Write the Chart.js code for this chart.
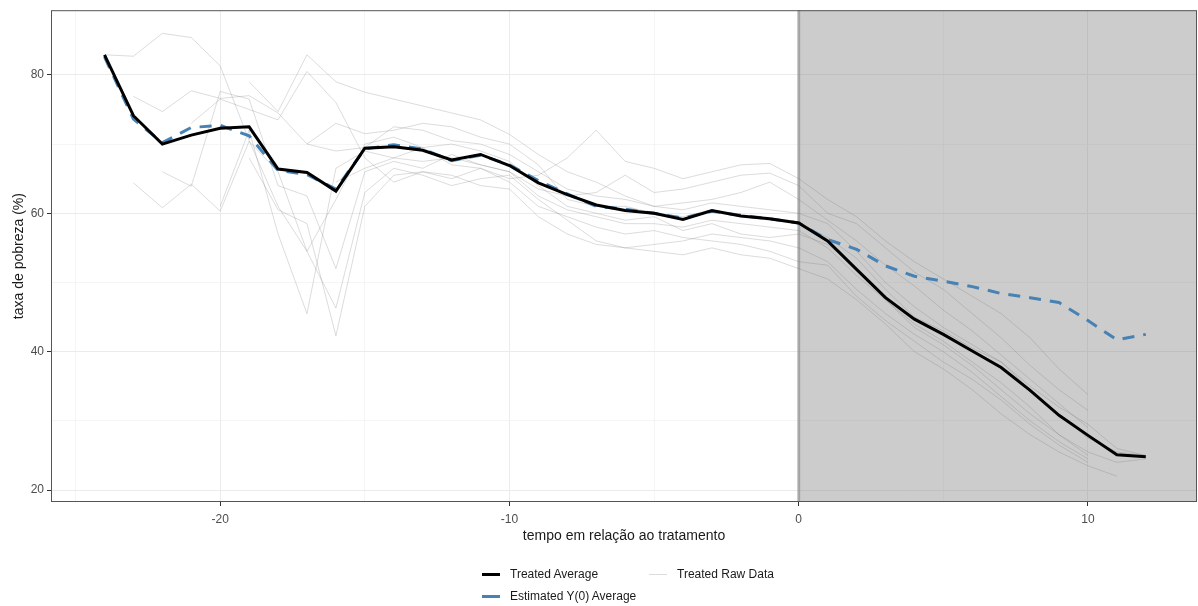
<!DOCTYPE html>
<html>
<head>
<meta charset="utf-8">
<script src="https://cdn.jsdelivr.net/npm/chart.js@4.4.0/dist/chart.umd.min.js"></script>
<style>
  html, body { margin: 0; padding: 0; background: #fff; }
  #wrap { position: relative; width: 1198px; height: 606px; }
  #legend { position: absolute; left: 0; top: 0; width: 1198px; height: 606px; pointer-events: none;
            font-family: 'Liberation Sans', Arial, sans-serif; font-size: 12px; color: #1a1a1a; }
  .item { position: absolute; display: flex; align-items: center; white-space: nowrap; }
  .key { width: 18px; height: 3px; margin-right: 10px; }
</style>
</head>
<body>
<div id="wrap">
  <canvas id="lineCanvas" width="1198" height="606"></canvas>
  <div id="legend">
    <div class="item" style="left:482px; top:567px;"><span class="key" style="background:#000;"></span>Treated Average</div>
    <div class="item" style="left:649px; top:567px;"><span class="key" style="background:#dcdcdc; height:1px;"></span>Treated Raw Data</div>
    <div class="item" style="left:482px; top:589px;"><span class="key" style="background:#4682b4;"></span>Estimated Y(0) Average</div>
  </div>
</div>
<script>
const tempo = [-24, -23, -22, -21, -20, -19, -18, -17, -16, -15, -14, -13, -12, -11, -10, -9, -8, -7, -6, -5,
               -4, -3, -2, -1, 0, 1, 2, 3, 4, 5, 6, 7, 8, 9, 10, 11, 12];

const treatedAvg = [82.9, 74.1, 70.0, 71.3, 72.3, 72.5, 66.4, 65.9, 63.2, 69.4,
                    69.6, 69.1, 67.7, 68.5, 66.9, 64.4, 62.7, 61.2, 60.4, 60.0,
                    59.1, 60.4, 59.6, 59.2, 58.6, 56.0, 51.9, 47.8, 44.7, 42.5,
                    40.1, 37.7, 34.4, 30.8, 27.9, 25.1, 24.8];

const estimatedY0 = [82.6, 73.6, 70.2, 72.4, 72.7, 71.2, 66.2, 65.6, 63.5, 69.3,
                     69.9, 69.3, 67.6, 68.4, 67.0, 64.7, 62.8, 61.0, 60.6, 60.0,
                     59.3, 60.3, 59.7, 59.2, 58.6, 56.2, 54.8, 52.4, 50.9, 50.2,
                     49.4, 48.4, 47.8, 47.1, 44.5, 41.7, 42.5];

// dados brutos das unidades tratadas
const rawA = [82.9, 82.7, 86.0, 85.4, 81.3, 70.5, 61.0, 54.5, 62.0, 70.0,
              71.0, 69.5, 67.0, 66.5, 64.5, 61.0, 59.5, 58.0, 57.0, 57.5,
              56.5, 56.0, 55.5, 54.5, 53.0, 52.5, 48.0, 44.5, 41.5, 38.5,
              36.0, 33.0, 29.5, 26.5, 24.0, null, null];
const rawB = [null, 76.9, 74.7, 77.7, 76.6, 77.0, 74.5, 70.0, 69.0, 69.5,
              72.5, 72.0, 70.5, 70.0, 68.5, 66.0, 63.5, 62.5, 62.0, 61.0,
              60.5, 61.5, 61.0, 60.5, 60.0, 58.5, 54.5, 50.0, 46.5, 43.5,
              41.0, 38.5, 34.5, 31.0, 27.5, 25.5, 25.0];
const rawC = [null, 64.4, 60.8, 64.2, 60.3, 70.4, 66.0, 54.5, 46.3, 63.0,
              66.5, 65.5, 64.0, 65.0, 65.5, 62.0, 59.0, 56.0, 55.0, 54.5,
              54.0, 55.0, 54.0, 53.5, 52.0, 50.5, 47.5, 44.0, 40.0, 37.5,
              34.5, 31.0, 28.0, 25.5, 23.5, 22.0, null];
const rawD = [null, null, 66.0, 63.9, 77.6, 76.5, 64.0, 62.5, 52.0, 66.0,
              67.5, 66.5, 68.5, 67.0, 66.0, 63.5, 62.5, 63.0, 65.5, 63.0,
              63.5, 64.5, 65.5, 65.8, 64.0, 60.0, 58.5, 55.0, 51.5, 49.0,
              45.5, 42.0, 38.0, 34.5, 31.5, null, null];
const rawE = [null, null, null, 73.0, 76.5, 75.0, 73.5, 80.5, 76.0, 68.0,
              64.5, 66.0, 65.0, 66.5, 65.0, 65.5, 68.0, 72.0, 67.5, 66.5,
              65.0, 66.0, 67.0, 67.2, 65.0, 62.0, 59.5, 56.0, 53.0, 50.5,
              48.0, 45.5, 42.0, 37.5, 33.8, null, null];
const rawF = [null, null, null, null, 61.0, 72.0, 57.0, 45.5, 66.5, 69.0,
              68.0, 67.5, 68.0, 67.0, 66.0, 62.5, 60.5, 59.5, 58.5, 58.5,
              58.0, 59.0, 58.5, 58.0, 57.5, 55.0, 51.0, 47.5, 43.5, 41.0,
              38.0, 34.5, 31.0, 28.0, 25.5, 24.0, 24.5];
const rawG = [null, null, null, null, null, 79.0, 74.7, 82.9, 79.0, 77.5,
              76.5, 75.5, 74.5, 73.5, 71.4, 68.5, 66.0, 64.5, 62.5, 61.0,
              61.5, 62.0, 63.0, 64.5, 62.0, 59.0, 56.0, 52.5, 49.5, 46.0,
              43.0, 39.5, 36.0, 32.5, 29.0, null, null];
const rawH = [null, null, null, null, null, 68.0, 60.5, 58.5, 42.3, 61.0,
              65.5, 66.0, 65.5, 64.0, 63.5, 59.5, 57.0, 55.5, 55.0, 55.5,
              56.0, 57.0, 56.5, 56.0, 55.0, 53.0, 49.0, 45.5, 42.5, 40.0,
              37.0, 33.5, 30.0, 27.0, 24.5, null, null];
const rawI = [null, null, null, null, null, null, null, 70.0, 73.0, 71.5,
              72.0, 73.0, 72.5, 71.0, 70.0, 67.0, 62.0, 61.0, 61.0, 60.0,
              59.5, 60.5, 59.5, 59.0, 58.5, 56.5, 53.5, 49.0, 45.0, 43.0,
              40.5, 38.5, 35.0, 32.0, 29.5, 26.0, 25.0];
const rawJ = [null, null, null, null, null, null, null, null, 64.5, 66.5,
              68.0, 69.5, 70.0, 69.0, 67.5, 64.0, 61.0, 60.0, 59.0, 59.5,
              57.5, 58.5, 57.0, 56.5, 57.0, 55.5, 52.0, 47.5, 44.0, 41.5,
              38.5, 35.5, 32.0, 28.0, 25.0, null, null];

const rawSeries = [rawA, rawB, rawC, rawD, rawE, rawF, rawG, rawH, rawI, rawJ];

const yTicks = [20, 40, 60, 80];
const xTicks = [-20, -10, 0, 10];
const treatStart = 0;

const toPoints = arr => tempo.map((t, i) => ({ x: t, y: arr[i] }));

const rawSets = rawSeries.map((s, i) => ({
  label: 'Treated Raw Data ' + (i + 1),
  data: toPoints(s),
  borderColor: 'rgba(110,110,110,0.24)',
  borderWidth: 1,
  pointRadius: 0,
  spanGaps: false,
  order: 2
}));

// fundo cinza do periodo de tratamento + borda do painel
const panelPlugin = {
  id: 'panel',
  beforeDatasetsDraw(chart) {
    const { ctx, chartArea, scales } = chart;
    const x0 = scales.x.getPixelForValue(treatStart);
    ctx.save();
    ctx.fillStyle = 'rgba(127,127,127,0.4)';
    ctx.fillRect(x0, chartArea.top, chartArea.right - x0, chartArea.bottom - chartArea.top);
    ctx.strokeStyle = 'rgba(110,110,110,0.45)';
    ctx.lineWidth = 3;
    ctx.beginPath();
    ctx.moveTo(x0, chartArea.top);
    ctx.lineTo(x0, chartArea.bottom);
    ctx.stroke();
    ctx.restore();
  },
  afterDraw(chart) {
    const { ctx, chartArea } = chart;
    ctx.save();
    ctx.strokeStyle = '#555';
    ctx.lineWidth = 1;
    ctx.strokeRect(chartArea.left + 0.5, chartArea.top + 0.5,
                   chartArea.right - chartArea.left - 1, chartArea.bottom - chartArea.top - 1);
    ctx.restore();
  }
};

const isMajor = (v, list) => list.includes(v);

new Chart(document.getElementById('lineCanvas'), {
  type: 'line',
  data: {
    datasets: [
      {
        label: 'Treated Average',
        data: toPoints(treatedAvg),
        borderColor: '#000',
        borderWidth: 3,
        pointRadius: 0,
        order: 0
      },
      {
        label: 'Estimated Y(0) Average',
        data: toPoints(estimatedY0),
        borderColor: '#4682b4',
        borderWidth: 3,
        borderDash: [12, 9],
        pointRadius: 0,
        order: 1
      },
      ...rawSets
    ]
  },
  options: {
    responsive: false,
    animation: false,
    layout: {
      padding: { left: 0, top: 8, right: 1, bottom: 59 }
    },
    scales: {
      x: {
        type: 'linear',
        min: -25.85,
        max: 13.77,
        ticks: {
          stepSize: 5,
          includeBounds: false,
          autoSkip: false,
          maxRotation: 0,
          padding: 6,
          color: '#4d4d4d',
          font: { family: "'Liberation Sans', Arial, sans-serif", size: 12 },
          callback: v => isMajor(v, xTicks) ? String(v) : ''
        },
        grid: {
          color: ctx => isMajor(ctx.tick.value, xTicks) ? '#ebebeb' : '#f3f3f3',
          lineWidth: ctx => isMajor(ctx.tick.value, xTicks) ? 1 : 0.8,
          tickColor: ctx => isMajor(ctx.tick.value, xTicks) ? '#333' : 'rgba(0,0,0,0)',
          tickLength: 4
        },
        border: { display: false },
        title: {
          display: true,
          text: 'tempo em relação ao tratamento',
          color: '#1a1a1a',
          font: { family: "'Liberation Sans', Arial, sans-serif", size: 14 },
          padding: { top: 0, bottom: 2 }
        },
        afterFit: scale => { scale.height = 45; }
      },
      y: {
        min: 18.27,
        max: 89.35,
        ticks: {
          stepSize: 10,
          includeBounds: false,
          autoSkip: false,
          padding: 3,
          color: '#4d4d4d',
          font: { family: "'Liberation Sans', Arial, sans-serif", size: 12 },
          callback: v => isMajor(v, yTicks) ? String(v) : ''
        },
        grid: {
          color: ctx => isMajor(ctx.tick.value, yTicks) ? '#ebebeb' : '#f3f3f3',
          lineWidth: ctx => isMajor(ctx.tick.value, yTicks) ? 1 : 0.8,
          tickColor: ctx => isMajor(ctx.tick.value, yTicks) ? '#333' : 'rgba(0,0,0,0)',
          tickLength: 4
        },
        border: { display: false },
        title: {
          display: true,
          text: 'taxa de pobreza (%)',
          color: '#1a1a1a',
          font: { family: "'Liberation Sans', Arial, sans-serif", size: 14 },
          padding: { top: 11, bottom: 4 }
        },
        afterFit: scale => { scale.width = 51; }
      }
    },
    plugins: {
      legend: { display: false },
      tooltip: { enabled: false }
    }
  },
  plugins: [panelPlugin]
});
</script>
</body>
</html>
